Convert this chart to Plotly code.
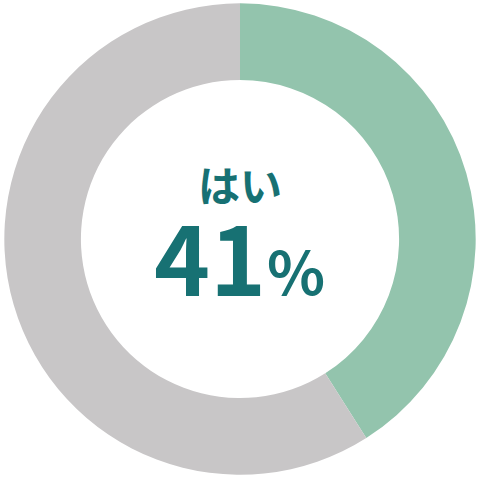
import plotly.graph_objects as go

labels = ["はい", "いいえ"]
values = [41, 59]
colors = ["#93C4AD", "#C8C6C7"]
answer = "はい"
answer_pct = "41"

fig = go.Figure()
fig.add_trace(go.Pie(
    labels=labels,
    values=values,
    hole=0.675,
    sort=False,
    direction="clockwise",
    rotation=0,
    marker=dict(colors=colors, line=dict(width=0)),
    textinfo="none",
    hoverinfo="skip",
    showlegend=False,
    domain=dict(x=[0.009, 0.991], y=[0.011, 0.993]),
))

txt = "#177173"
font = "Noto Sans CJK JP"
# one centre label: answer on top, big percentage below
label = ("<span style='font-size:42px'><b>" + answer + "</b></span><br>"
         "<span style='font-size:95px'><b>" + answer_pct + "</b></span>"
         "<span style='font-size:60px'><b>％</b></span>")
fig.add_annotation(x=0.499, y=0.505, xref="paper", yref="paper", text=label,
                   showarrow=False, align="center",
                   font=dict(family=font, size=72, color=txt))

fig.update_layout(
    width=480, height=480,
    margin=dict(l=0, r=0, t=0, b=0),
    paper_bgcolor="white", plot_bgcolor="white",
)
# page has a default body margin; drop it so the chart sits at the window corner
fig.write_html("out.html", config={"displayModeBar": False},
               post_script="document.body.style.margin='0';")
